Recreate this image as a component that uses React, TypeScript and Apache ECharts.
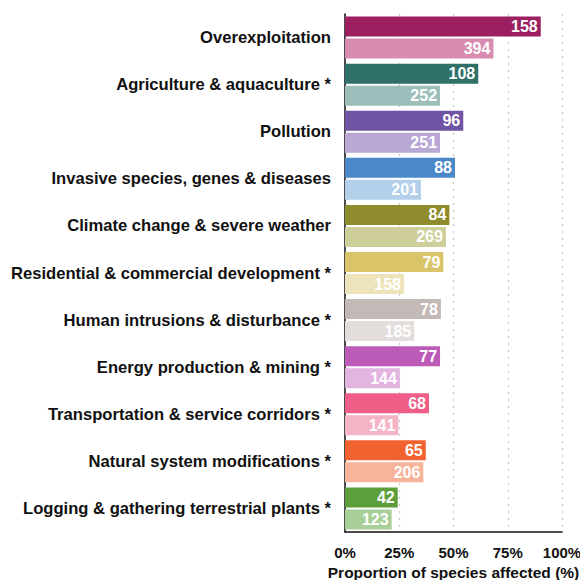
import React, { useEffect, useRef } from "react";
import * as echarts from "echarts";

const categories = [
  "Overexploitation",
  "Agriculture & aquaculture *",
  "Pollution",
  "Invasive species, genes & diseases",
  "Climate change & severe weather",
  "Residential & commercial development *",
  "Human intrusions & disturbance *",
  "Energy production & mining *",
  "Transportation & service corridors *",
  "Natural system modifications *",
  "Logging & gathering terrestrial plants *",
];

const darkPct = [90.2, 61.4, 54.5, 50.7, 48.1, 45.3, 44.2, 43.8, 38.7, 37.2, 24.3];
const lightPct = [68.4, 43.8, 43.8, 35.0, 46.5, 27.2, 31.9, 25.3, 24.6, 36.1, 21.5];
const darkCounts = [158, 108, 96, 88, 84, 79, 78, 77, 68, 65, 42];
const lightCounts = [394, 252, 251, 201, 269, 158, 185, 144, 141, 206, 123];

const darkColors = [
  "#9C2060", "#2F7068", "#6F54A3", "#4B88C8", "#8E8C2C", "#D9C46A",
  "#C3B9B6", "#BC5CB8", "#EE5E86", "#F2622F", "#5C9E3A",
];
const lightColors = [
  "#D88DB0", "#9DBFBB", "#B9A8D6", "#B3CFEA", "#CDCE9A", "#EEE4BC",
  "#E3DEDC", "#E2B4DF", "#F5B3C6", "#F8B49B", "#A9CF98",
];

const xTicks = [0, 25, 50, 75, 100];

const FONT = "'Liberation Sans', Arial, sans-serif";

export default function App() {
  const ref = useRef<HTMLDivElement>(null);
  useEffect(() => {
    if (!ref.current) return;
    const chart = echarts.init(ref.current, null, { renderer: "svg" });
    const labelStyle = (counts: number[]) => ({
      show: true,
      position: "insideRight" as const,
      distance: 3,
      color: "#ffffff",
      fontWeight: "bold" as const,
      fontSize: 16,
      fontFamily: FONT,
      formatter: (p: any) => String(counts[p.dataIndex]),
    });
    chart.setOption({
      animation: false,
      backgroundColor: "#ffffff",
      grid: { left: 345, right: 26, top: 14, height: 518, outerBoundsMode: "none", containLabel: false },
      xAxis: {
        type: "value",
        min: xTicks[0],
        max: xTicks[xTicks.length - 1],
        interval: 25,
        axisLine: { show: true, lineStyle: { color: "#111", width: 1.5 } },
        axisTick: { show: false },
        axisLabel: {
          formatter: "{value}%",
          color: "#111",
          fontWeight: "bold",
          fontSize: 15,
          fontFamily: FONT,
          margin: 13,
        },
        splitLine: { show: true, lineStyle: { color: "#c8c8c8", type: [2, 5], width: 1.2 } },
        name: "Proportion of species affected (%)",
        nameLocation: "middle",
        nameGap: 32,
        nameTextStyle: { color: "#111", fontWeight: "bold", fontSize: 15.5, fontFamily: FONT },
      },
      yAxis: {
        type: "category",
        inverse: true,
        data: categories,
        axisLine: { show: true, lineStyle: { color: "#111", width: 1.5 } },
        axisTick: { show: false },
        axisLabel: {
          color: "#111",
          fontWeight: "bold",
          fontSize: 16.6,
          fontFamily: FONT,
          margin: 14,
        },
      },
      series: [
        {
          type: "bar",
          barWidth: 20,
          barGap: "10%",
          data: darkPct.map((v, i) => ({ value: v, itemStyle: { color: darkColors[i] } })),
          label: labelStyle(darkCounts),
        },
        {
          type: "bar",
          barWidth: 20,
          barGap: "10%",
          data: lightPct.map((v, i) => ({ value: v, itemStyle: { color: lightColors[i] } })),
          label: labelStyle(lightCounts),
        },
      ],
    });
    return () => chart.dispose();
  }, []);
  return <div ref={ref} style={{ width: 588, height: 588, margin: -8 }} />;
}
